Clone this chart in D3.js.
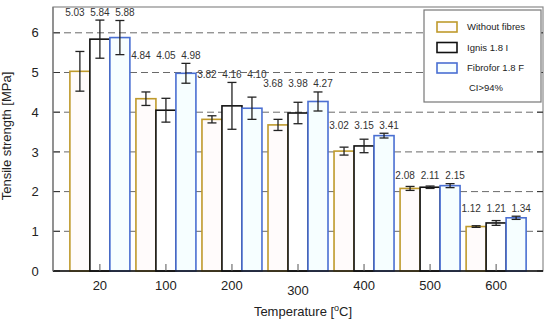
<!DOCTYPE html>
<html>
<head>
<meta charset="utf-8">
<script src="https://cdn.jsdelivr.net/npm/d3@7"></script>
<style>
  body { margin: 0; background: #fff; }
  svg text { font-family: Arial, "Liberation Sans", sans-serif; }
</style>
</head>
<body>
<svg width="550" height="322"></svg>
<script>
// temperatures on x axis
const temps = ['20', '100', '200', '300', '400', '500', '600'];
const seriesNames = ['Without fibres', 'Ignis 1.8 I', 'Fibrofor 1.8 F'];

// mean tensile strength [MPa]
const withoutFibres = [5.03, 4.34, 3.82, 3.68, 3.02, 2.08, 1.12];
const ignis = [5.84, 4.05, 4.16, 3.98, 3.15, 2.11, 1.21];
const fibrofor = [5.88, 4.98, 4.10, 4.27, 3.41, 2.15, 1.34];

// half width of the confidence interval
const withoutFibresErr = [0.50, 0.17, 0.09, 0.14, 0.10, 0.05, 0.02];
const ignisErr = [0.48, 0.30, 0.59, 0.27, 0.17, 0.03, 0.06];
const fibroforErr = [0.43, 0.25, 0.28, 0.24, 0.06, 0.05, 0.04];

// value labels as printed on the chart
const withoutFibresLabels = ['5.03', '4.84', '3.82', '3.68', '3.02', '2.08', '1.12'];
const ignisLabels = ['5.84', '4.05', '4.16', '3.98', '3.15', '2.11', '1.21'];
const fibroforLabels = ['5.88', '4.98', '4.10', '4.27', '3.41', '2.15', '1.34'];

const yTicks = [0, 1, 2, 3, 4, 5, 6];

const svg = d3.select('svg');
const width = +svg.attr('width');
const height = +svg.attr('height');

const colors = ['#bf9a2c', '#111111', '#4a6fd2'];
const fills = ['#fffbfb', '#ffffff', '#f6feff'];

const render = () => {
    const margin = { top: 7, right: 7, bottom: 51, left: 53 };
    const innerWidth = width - margin.left - margin.right;
    const innerHeight = height - margin.top - margin.bottom;

    const series = [
        { name: seriesNames[0], values: withoutFibres, err: withoutFibresErr, labels: withoutFibresLabels },
        { name: seriesNames[1], values: ignis, err: ignisErr, labels: ignisLabels },
        { name: seriesNames[2], values: fibrofor, err: fibroforErr, labels: fibroforLabels },
    ];

    const xScale = d3.scalePoint()
        .domain(temps)
        .range([0, innerWidth])
        .padding(0.71);

    const xInner = d3.scaleBand()
        .domain(d3.range(series.length))
        .range([-30, 30]);

    const yScale = d3.scaleLinear()
        .domain([0, 6.65])
        .range([innerHeight, 0]);

    const g = svg.append('g')
        .attr('transform', `translate(${margin.left}, ${margin.top})`);

    // frame
    g.append('rect')
        .attr('width', innerWidth)
        .attr('height', innerHeight)
        .attr('fill', 'white')
        .attr('stroke', '#8a8a8a')
        .attr('stroke-width', 1.2);

    // dashed grid
    g.selectAll('.grid').data(yTicks.filter(d => d > 0))
        .enter().append('line')
        .attr('x1', 0).attr('x2', innerWidth)
        .attr('y1', d => yScale(d)).attr('y2', d => yScale(d))
        .attr('stroke', '#6a6a6a')
        .attr('stroke-dasharray', '7,4');

    // y ticks on both sides
    g.selectAll('.ytl').data(yTicks).enter().append('line')
        .attr('x1', 0).attr('x2', 7)
        .attr('y1', d => yScale(d)).attr('y2', d => yScale(d))
        .attr('stroke', '#333');
    g.selectAll('.ytr').data(yTicks).enter().append('line')
        .attr('x1', innerWidth - 6).attr('x2', innerWidth)
        .attr('y1', d => yScale(d)).attr('y2', d => yScale(d))
        .attr('stroke', '#333');

    g.selectAll('.ylab').data(yTicks).enter().append('text')
        .attr('x', -18)
        .attr('y', d => yScale(d))
        .attr('dy', '0.36em')
        .attr('text-anchor', 'middle')
        .attr('font-size', 13)
        .attr('fill', '#222')
        .text(d => d);

    // bars
    series.forEach((s, i) => {
        const sg = g.append('g');
        sg.selectAll('rect').data(s.values)
            .enter().append('rect')
            .attr('x', (d, j) => xScale(temps[j]) + xInner(i))
            .attr('y', d => yScale(d))
            .attr('width', xInner.bandwidth())
            .attr('height', d => innerHeight - yScale(d))
            .attr('fill', fills[i])
            .attr('stroke', colors[i])
            .attr('stroke-width', 1.6);
    });

    // error bars
    series.forEach((s, i) => {
        s.values.forEach((v, j) => {
            const cx = xScale(temps[j]) + xInner(i) + xInner.bandwidth() / 2;
            const lo = yScale(v - s.err[j]);
            const hi = yScale(v + s.err[j]);
            const eg = g.append('g').attr('stroke', '#222').attr('stroke-width', 1.3);
            eg.append('line').attr('x1', cx).attr('x2', cx).attr('y1', lo).attr('y2', hi);
            eg.append('line').attr('x1', cx - 4.5).attr('x2', cx + 4.5).attr('y1', lo).attr('y2', lo);
            eg.append('line').attr('x1', cx - 4.5).attr('x2', cx + 4.5).attr('y1', hi).attr('y2', hi);
        });
    });

    // value labels, one row per group above the highest whisker
    temps.forEach((t, j) => {
        const top = d3.max(series, s => s.values[j] + s.err[j]);
        series.forEach((s, i) => {
            g.append('text')
                .attr('x', xScale(t) + (i - 1) * 25)
                .attr('y', yScale(top) - 4.5)
                .attr('text-anchor', 'middle')
                .attr('font-size', 10)
                .attr('fill', '#333')
                .text(s.labels[j]);
        });
    });

    // x axis
    g.append('line')
        .attr('x1', 0).attr('x2', innerWidth)
        .attr('y1', innerHeight).attr('y2', innerHeight)
        .attr('stroke', '#111').attr('stroke-width', 1.6);
    g.append('line')
        .attr('x1', 0).attr('x2', 0)
        .attr('y1', 0).attr('y2', innerHeight)
        .attr('stroke', '#777').attr('stroke-width', 1.2);

    g.selectAll('.xt').data(temps).enter().append('line')
        .attr('x1', d => xScale(d)).attr('x2', d => xScale(d))
        .attr('y1', innerHeight).attr('y2', innerHeight - 7)
        .attr('stroke', '#555');

    g.selectAll('.xlab').data(temps).enter().append('text')
        .attr('x', d => xScale(d))
        .attr('y', d => innerHeight + (d === '300' ? 24 : 19))
        .attr('text-anchor', 'middle')
        .attr('font-size', 13)
        .attr('fill', '#222')
        .text(d => d);

    // axis titles
    const xt = g.append('text')
        .attr('x', innerWidth / 2 + 5)
        .attr('y', innerHeight + 45)
        .attr('text-anchor', 'middle')
        .attr('font-size', 13)
        .attr('fill', '#222');
    xt.append('tspan').text('Temperature [');
    xt.append('tspan').attr('dy', -5).attr('font-size', 9).text('o');
    xt.append('tspan').attr('dy', 5).text('C]');

    g.append('text')
        .attr('transform', `translate(${-42}, ${innerHeight / 2 - 3}) rotate(-90)`)
        .attr('text-anchor', 'middle')
        .attr('font-size', 13)
        .attr('fill', '#222')
        .text('Tensile strength [MPa]');

    // legend
    const lg = g.append('g').attr('transform', `translate(${innerWidth - 119}, 3)`);
    lg.append('rect')
        .attr('width', 117).attr('height', 92)
        .attr('fill', 'white')
        .attr('stroke', '#777').attr('stroke-width', 1.2);
    series.forEach((s, i) => {
        const ly = 17 + i * 20.5;
        lg.append('rect')
            .attr('x', 13).attr('y', ly - 5)
            .attr('width', 20).attr('height', 10)
            .attr('fill', fills[i])
            .attr('stroke', colors[i])
            .attr('stroke-width', 1.6);
        lg.append('text')
            .attr('x', 43).attr('y', ly)
            .attr('dy', '0.35em')
            .attr('font-size', 9.5)
            .attr('fill', '#222')
            .text(s.name);
    });
    lg.append('text')
        .attr('x', 45).attr('y', 78)
        .attr('dy', '0.35em')
        .attr('font-size', 9.5)
        .attr('fill', '#222')
        .text('CI>94%');
};

render();
</script>
</body>
</html>
